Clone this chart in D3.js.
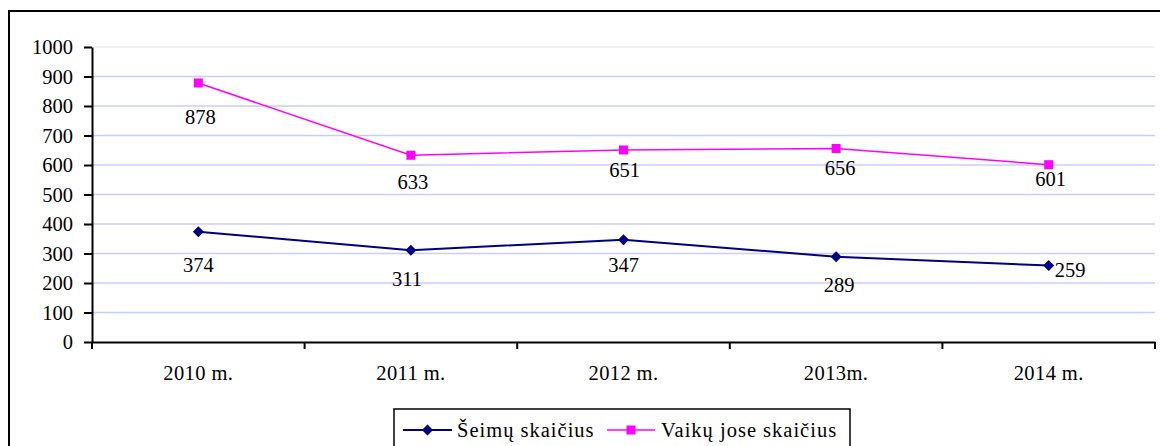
<!DOCTYPE html>
<html>
<head>
<meta charset="utf-8">
<script src="https://cdn.jsdelivr.net/npm/d3@7"></script>
<style>
  html, body { margin: 0; padding: 0; background: #fff; }
  svg { display: block; }
  text { font-family: "Liberation Serif", "Times New Roman", serif; fill: #000; }
</style>
</head>
<body>
<svg id="chart" width="1160" height="446"></svg>
<script>
// ---- data ----
const categories = ["2010 m.", "2011 m.", "2012 m.", "2013m.", "2014 m."];
const seimuSkaicius = [374, 311, 347, 289, 259];
const vaikuSkaicius = [878, 633, 651, 656, 601];
const seriesNames = ["Šeimų skaičius", "Vaikų jose skaičius"];
const yTicks = [0, 100, 200, 300, 400, 500, 600, 700, 800, 900, 1000];

// ---- label nudges (layout, px relative to the point) ----
const seimuLabelNudge = [[0, 40], [-4, 36], [0, 32], [3, 35], [6, 11]];
const vaikuLabelNudge = [[2, 41], [2, 34], [1, 27], [4, 27], [2, 21]];

// ---- layout ----
const plot = { left: 92, right: 1155, top: 47, bottom: 342 };
const FONT = "Liberation Serif, Times New Roman, serif";

const svg = d3.select("#chart");

// outer frame
svg.append("rect")
  .attr("x", 9).attr("y", 11)
  .attr("width", 1170).attr("height", 460)
  .attr("fill", "#fff").attr("stroke", "#000").attr("stroke-width", 2);

const x = d3.scaleBand().domain(categories).range([plot.left, plot.right]).padding(0);
const y = d3.scaleLinear().domain([0, 1000]).range([plot.bottom, plot.top]);
const cx = c => x(c) + x.bandwidth() / 2;

// gridlines
svg.append("g").selectAll("line")
  .data(yTicks.filter(t => t > 0))
  .join("line")
  .attr("x1", plot.left).attr("x2", plot.right)
  .attr("y1", d => y(d)).attr("y2", d => y(d))
  .attr("stroke", d => d === 1000 ? "#ececfa" : "#ccccf8")
  .attr("stroke-width", 1.5);

// y axis
const yAxis = svg.append("g")
  .attr("transform", `translate(${plot.left},0)`)
  .call(d3.axisLeft(y).tickValues(yTicks).tickFormat(d3.format("d"))
    .tickSize(8).tickPadding(11).tickSizeOuter(0));
yAxis.attr("font-family", FONT);
yAxis.select(".domain").attr("stroke", "#000").attr("stroke-width", 2);
yAxis.selectAll(".tick line").attr("stroke", "#000").attr("stroke-width", 2);
yAxis.selectAll(".tick text")
  .attr("font-size", 20.5)
  .attr("fill", "#000");

// x axis
const xAxis = svg.append("g")
  .attr("transform", `translate(0,${plot.bottom})`)
  .call(d3.axisBottom(x).tickSize(0).tickPadding(0).tickSizeOuter(0));
xAxis.attr("font-family", FONT);
xAxis.select(".domain").attr("stroke", "#000").attr("stroke-width", 2);
xAxis.selectAll(".tick text")
  .attr("font-size", 20.5)
  .attr("letter-spacing", "0.4px")
  .attr("fill", "#000")
  .attr("dy", null)
  .attr("y", 38);
// category boundary ticks
const boundaries = categories.map(c => x(c)).concat([plot.right]);
svg.append("g").selectAll("line")
  .data(boundaries)
  .join("line")
  .attr("x1", d => d).attr("x2", d => d)
  .attr("y1", plot.bottom).attr("y2", plot.bottom + 7)
  .attr("stroke", "#000").attr("stroke-width", 2);

// series
const series = [
  { name: seriesNames[0], values: seimuSkaicius, color: "#000080", width: 2, marker: "diamond", nudge: seimuLabelNudge },
  { name: seriesNames[1], values: vaikuSkaicius, color: "#ff00ff", width: 1.5, marker: "square", nudge: vaikuLabelNudge }
];

const line = d3.line().x((d, i) => cx(categories[i])).y(d => y(d));
const diamond = s => `M0,${-s}L${s},0L0,${s}L${-s},0Z`;

function drawMarker(g, type, color) {
  if (type === "diamond") {
    g.append("path").attr("d", diamond(5.5)).attr("fill", color);
  } else {
    g.append("rect").attr("x", -4.5).attr("y", -4.5).attr("width", 9).attr("height", 9).attr("fill", color);
  }
}

series.forEach(s => {
  svg.append("path")
    .datum(s.values)
    .attr("d", line)
    .attr("fill", "none")
    .attr("stroke", s.color)
    .attr("stroke-width", s.width);

  s.values.forEach((v, i) => {
    const g = svg.append("g").attr("transform", `translate(${cx(categories[i])},${y(v)})`);
    drawMarker(g, s.marker, s.color);
  });

  svg.append("g").attr("font-family", FONT).selectAll("text")
    .data(s.values)
    .join("text")
    .attr("x", (d, i) => cx(categories[i]) + s.nudge[i][0])
    .attr("y", (d, i) => y(d) + s.nudge[i][1])
    .attr("text-anchor", (d, i) => i === 4 && s.marker === "diamond" ? "start" : "middle")
    .attr("font-size", 20.5)
    .text(d => d);
});

// legend
const legend = svg.append("g").attr("font-family", FONT);
legend.append("rect")
  .attr("x", 394).attr("y", 409).attr("width", 456).attr("height", 60)
  .attr("fill", "#fff").attr("stroke", "#000").attr("stroke-width", 1.5);

const legendItems = [
  { s: series[0], x0: 403, x1: 452, tx: 457 },
  { s: series[1], x0: 607, x1: 655, tx: 661 }
];
legendItems.forEach(it => {
  const ly = 430;
  legend.append("line")
    .attr("x1", it.x0).attr("x2", it.x1).attr("y1", ly).attr("y2", ly)
    .attr("stroke", it.s.color).attr("stroke-width", it.s.width);
  const g = legend.append("g").attr("transform", `translate(${(it.x0 + it.x1) / 2},${ly})`);
  drawMarker(g, it.s.marker, it.s.color);
  legend.append("text")
    .attr("x", it.tx).attr("y", 437)
    .attr("font-size", 20.5)
    .attr("letter-spacing", "1px")
    .text(it.s.name);
});
</script>
</body>
</html>
